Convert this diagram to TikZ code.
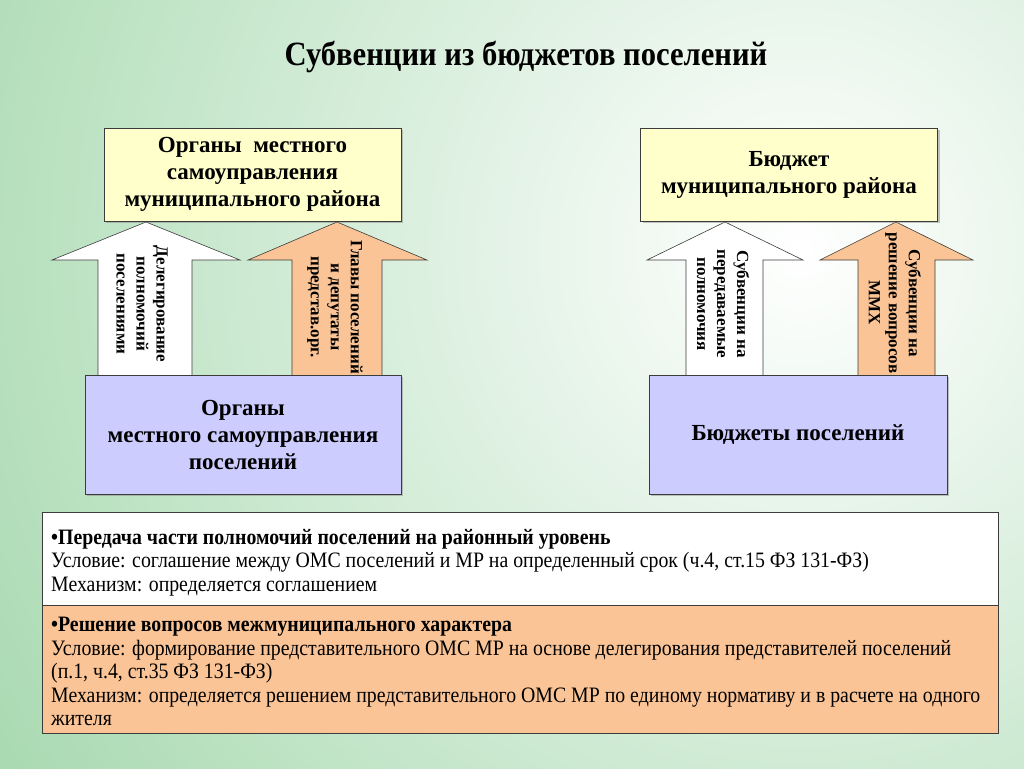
\documentclass[tikz,border=0pt]{standalone}
\usepackage{fontspec}
\setmainfont{Liberation Serif}
\newfontfamily\narrowfont{Liberation Serif}[FakeStretch=0.9]
\usetikzlibrary{shadows}

\definecolor{bggreen}{RGB}{128,200,140}
\definecolor{boxyellow}{RGB}{255,255,204}
\definecolor{boxblue}{RGB}{204,204,255}
\definecolor{boxorange}{RGB}{250,196,150}
\definecolor{edgegray}{RGB}{60,60,60}

\tikzset{
    topbox/.style={rectangle, draw=edgegray, fill=boxyellow, align=center,
      minimum width=297pt, minimum height=93pt, inner sep=0pt,
      font=\bfseries\fontsize{23}{27}\selectfont,
      drop shadow={shadow xshift=2pt, shadow yshift=-2pt, opacity=0.45}},
    lowbox/.style={topbox, fill=boxblue, minimum width=316pt, minimum height=119pt},
    uparrow/.style={draw=edgegray, fill=white, line width=0.6pt},
    arrowtext/.style={rotate=-90, align=center, inner sep=0pt,
      font=\bfseries\fontsize{17}{20}\selectfont},
    tablerow/.style={rectangle, draw=edgegray, inner sep=0pt, anchor=north west},
    rowtext/.style={anchor=base west, inner sep=0pt,
      font=\narrowfont\fontsize{22}{23}\selectfont},
    rowhead/.style={rowtext, font=\narrowfont\bfseries\fontsize{22}{23}\selectfont},
}

\begin{document}
\begin{tikzpicture}[x=1pt, y=-1pt]
% background
\begin{scope}
\clip (0,0) rectangle (1024,768);
\shade[inner color=white, outer color=bggreen] (800,250) circle (1400);
\end{scope}
\useasboundingbox (0,0) rectangle (1024,768);

\node[font=\narrowfont\bfseries\fontsize{34}{38}\selectfont] (title) at (526,57) {Субвенции из бюджетов поселений};

% arrows, left pair
\draw[uparrow] (98,378) -- (98,260) -- (52,260) -- (146,222) -- (240,260) -- (192,260) -- (192,378) -- cycle;
\draw[uparrow, fill=boxorange] (292,378) -- (292,260) -- (248,260) -- (337,222) -- (427,260) -- (382,260) -- (382,378) -- cycle;
% arrows, right pair
\draw[uparrow] (686,378) -- (686,260) -- (647,260) -- (725,222) -- (803,260) -- (763,260) -- (763,378) -- cycle;
\draw[uparrow, fill=boxorange] (858,378) -- (858,260) -- (820,260) -- (896,222) -- (973,260) -- (935,260) -- (935,378) -- cycle;

\node[arrowtext] (deleg) at (142,304) {Делегирование\\полномочий\\поселениями};
\node[arrowtext] (glavy) at (335,307) {Главы поселений\\и депутаты\\представ.орг.};
\node[arrowtext] (subv1) at (723,304) {Субвенции на\\передаваемые\\полномочия};
\node[arrowtext] (subv2) at (895,303) {Субвенции на\\решение вопросов\\ММХ};

% boxes
\node[topbox] (omsmr) at (252.5,174.5) {Органы\ \ местного\\самоуправления\\муниципального района};
\node[topbox] (budmr) at (789,174.5) {Бюджет\\муниципального района};
\node[lowbox] (omspos) at (243,434.5) {Органы\\местного самоуправления\\поселений};
\node[lowbox, minimum width=298pt] (budpos) at (798,434.5) {Бюджеты поселений};

% table
\node[tablerow, fill=white, minimum width=956pt, minimum height=93pt] (row1) at (42,512) {};
\node[tablerow, fill=boxorange, minimum width=956pt, minimum height=128pt] (row2) at (42,605) {};

\node[rowhead] (r1a) at (51,544) {•Передача части полномочий поселений на районный уровень};
\node[rowtext] (r1b) at (51,567) {Условие: соглашение между ОМС поселений и МР на определенный срок (ч.4, ст.15 ФЗ 131-ФЗ)};
\node[rowtext] (r1c) at (51,591) {Механизм: определяется соглашением};
\node[rowhead] (r2a) at (51,631) {•Решение вопросов межмуниципального характера};
\node[rowtext] (r2b) at (51,655) {Условие: формирование представительного ОМС МР на основе делегирования представителей поселений};
\node[rowtext] (r2c) at (51,678) {(п.1, ч.4, ст.35 ФЗ 131-ФЗ)};
\node[rowtext] (r2d) at (51,702) {Механизм: определяется решением представительного ОМС МР по единому нормативу и в расчете на одного};
\node[rowtext] (r2e) at (51,725) {жителя};
\end{tikzpicture}
\end{document}
